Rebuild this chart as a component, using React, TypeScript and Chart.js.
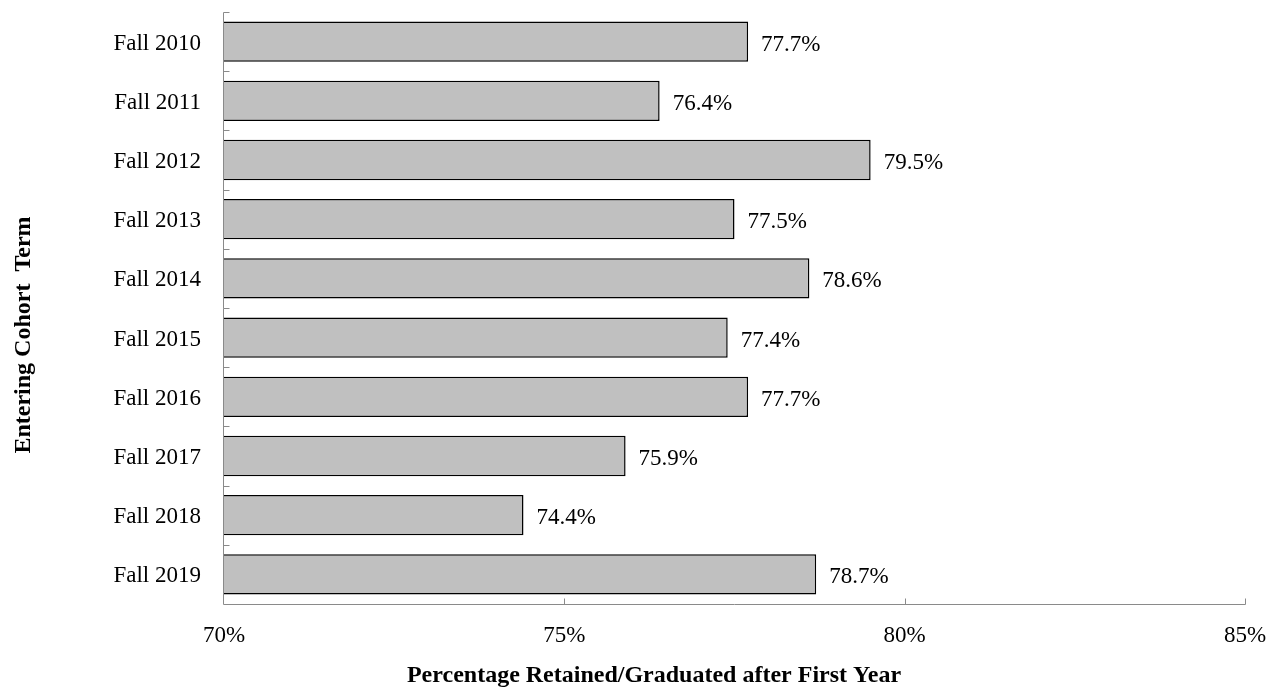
import React, { useEffect, useRef } from "react";
import { Chart, registerables } from "chart.js";

Chart.register(...registerables);

const categories = [
  "Fall 2010",
  "Fall 2011",
  "Fall 2012",
  "Fall 2013",
  "Fall 2014",
  "Fall 2015",
  "Fall 2016",
  "Fall 2017",
  "Fall 2018",
  "Fall 2019",
];
const retention = [77.7, 76.4, 79.5, 77.5, 78.6, 77.4, 77.7, 75.9, 74.4, 78.7];
const xMin = 70;
const xMax = 85;
const xStep = 5;
const xTitle = "Percentage Retained/Graduated after First Year";
const yTitle = "Entering Cohort  Term";

const FONT = "'Liberation Serif', 'Times New Roman', serif";
const AXIS_COLOR = "#8a8a8a";

const axesPlugin = {
  id: "axesAndTicks",
  afterDatasetsDraw(chart: any) {
    const ctx = chart.ctx;
    const xs = chart.scales.x;
    const ys = chart.scales.y;
    const { left, right, top, bottom } = chart.chartArea;
    const L = Math.round(left) - 0.5;
    const B = Math.round(bottom) + 0.5;
    ctx.save();
    ctx.strokeStyle = AXIS_COLOR;
    ctx.lineWidth = 1;
    ctx.beginPath();
    ctx.moveTo(L, Math.round(top) + 0.5);
    ctx.lineTo(L, B);
    ctx.lineTo(Math.round(right) + 0.5, B);
    ctx.stroke();
    const n = categories.length;
    for (let i = 0; i < n; i++) {
      const y = Math.round(ys.getPixelForValue(i - 0.5)) + 0.5;
      ctx.beginPath();
      ctx.moveTo(L, y);
      ctx.lineTo(L + 6, y);
      ctx.stroke();
    }
    xs.ticks.forEach((t: any) => {
      if (t.value === xMin) return;
      const x = Math.round(xs.getPixelForValue(t.value)) + 0.5;
      ctx.beginPath();
      ctx.moveTo(x, B);
      ctx.lineTo(x, B - 6);
      ctx.stroke();
    });
    ctx.restore();
  },
};

const labelPlugin = {
  id: "barValueLabels",
  afterDatasetsDraw(chart: any) {
    const ctx = chart.ctx;
    const meta = chart.getDatasetMeta(0);
    const data = chart.data.datasets[0].data as number[];
    ctx.save();
    ctx.font = `23px ${FONT}`;
    ctx.fillStyle = "#000";
    ctx.textAlign = "left";
    ctx.textBaseline = "middle";
    meta.data.forEach((bar: any, i: number) => {
      ctx.fillText(data[i].toFixed(1) + "%", bar.x + 13, bar.y + 3);
    });
    ctx.restore();
  },
};

const titlePlugin = {
  id: "axisTitles",
  afterDraw(chart: any) {
    const ctx = chart.ctx;
    ctx.save();
    ctx.font = `bold 24px ${FONT}`;
    ctx.fillStyle = "#000";
    ctx.textAlign = "center";
    ctx.textBaseline = "middle";
    ctx.fillText(xTitle, 654, 676);
    ctx.translate(24, 335);
    ctx.rotate(-Math.PI / 2);
    ctx.fillText(yTitle, 0, 0);
    ctx.restore();
  },
};

export default function App() {
  const ref = useRef<HTMLCanvasElement>(null);
  useEffect(() => {
    if (!ref.current) return;
    const chart = new Chart(ref.current, {
      type: "bar",
      data: {
        labels: categories,
        datasets: [
          {
            data: retention,
            backgroundColor: "#c0c0c0",
            borderColor: "#000000",
            borderWidth: 1.5,
            borderSkipped: false,
            barPercentage: 0.68,
            categoryPercentage: 1,
          },
        ],
      },
      plugins: [axesPlugin, labelPlugin, titlePlugin],
      options: {
        indexAxis: "y",
        responsive: false,
        animation: false,
        events: [],
        layout: { padding: { left: 0, right: 34, top: 12, bottom: 0 } },
        plugins: {
          legend: { display: false },
          tooltip: { enabled: false },
        },
        scales: {
          x: {
            type: "linear",
            min: xMin,
            max: xMax,
            ticks: {
              stepSize: xStep,
              padding: 18,
              color: "#000",
              font: { family: FONT, size: 23 },
              callback: (v: any) => v + "%",
            },
            grid: { display: false, drawTicks: false },
            border: { display: false },
            afterFit: (s: any) => {
              s.height = 84;
              s.paddingLeft = 0;
              s.paddingRight = 0;
              s.paddingTop = 0;
              s.paddingBottom = 0;
            },
          },
          y: {
            type: "category",
            offset: true,
            ticks: {
              padding: 23,
              labelOffset: 2,
              color: "#000",
              font: { family: FONT, size: 23 },
            },
            grid: { display: false, drawTicks: false },
            border: { display: false },
            afterFit: (s: any) => {
              s.width = 224;
              s.paddingLeft = 0;
              s.paddingRight = 0;
              s.paddingTop = 0;
              s.paddingBottom = 0;
            },
          },
        },
      },
    });
    return () => chart.destroy();
  }, []);
  return (
    <div style={{ position: "absolute", left: 0, top: 0, width: 1279, height: 688, background: "#fff" }}>
      <canvas ref={ref} width={1279} height={688} style={{ display: "block" }} />
    </div>
  );
}
